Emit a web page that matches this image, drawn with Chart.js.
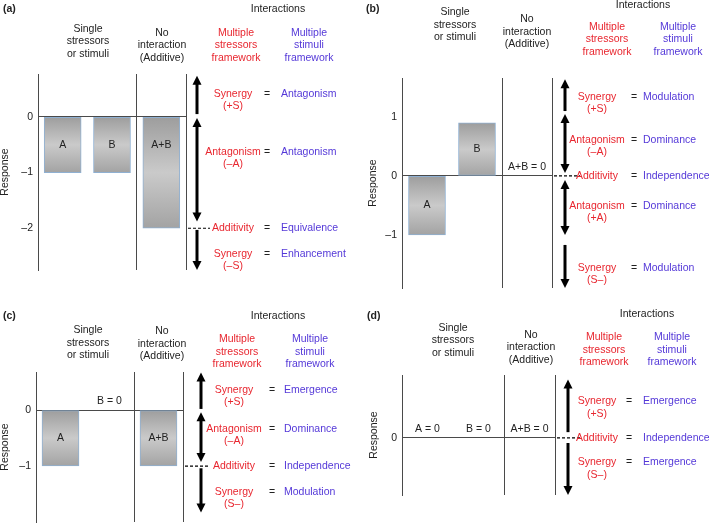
<!DOCTYPE html>
<html>
<head>
<meta charset="utf-8">
<script src="https://cdn.jsdelivr.net/npm/chart.js@4.4.1/dist/chart.umd.min.js"></script>
<style>
html, body { margin: 0; padding: 0; background: #fff; }
#wrap { position: relative; width: 709px; height: 523px; }
canvas { position: absolute; left: 0; top: 0; }
</style>
</head>
<body>
<div id="wrap">
  <canvas id="pa" width="709" height="523"></canvas>
  <canvas id="pb" width="709" height="523"></canvas>
  <canvas id="pc" width="709" height="523"></canvas>
  <canvas id="pd" width="709" height="523"></canvas>
</div>
<script>
// data
var barLabels = ['A', 'B', 'A+B'];
var valuesA = [-1, -1, -2];
var valuesB = [-1, 0.9, 0];
var valuesC = [-1, 0, -1];
var valuesD = [0, 0, 0];
var ticksA = [0, -1, -2];
var ticksB = [1, 0, -1];
var ticksC = [0, -1];
var ticksD = [0];

// interaction rows: red label lines, blue label, response level of first line
var rowsA = [
  { red: ['Synergy', '(+S)'], blue: 'Antagonism', at: 0.41 },
  { red: ['Antagonism', '(\u2013A)'], blue: 'Antagonism', at: -0.625 },
  { red: ['Additivity'], blue: 'Equivalence', at: -2 },
  { red: ['Synergy', '(\u2013S)'], blue: 'Enhancement', at: -2.46 }
];
var rowsB = [
  { red: ['Synergy', '(+S)'], blue: 'Modulation', at: 1.34 },
  { red: ['Antagonism', '(\u2013A)'], blue: 'Dominance', at: 0.61 },
  { red: ['Additivity'], blue: 'Independence', at: 0 },
  { red: ['Antagonism', '(+A)'], blue: 'Dominance', at: -0.51 },
  { red: ['Synergy', '(S\u2013)'], blue: 'Modulation', at: -1.56 }
];
var rowsC = [
  { red: ['Synergy', '(+S)'], blue: 'Emergence', at: 0.36 },
  { red: ['Antagonism', '(\u2013A)'], blue: 'Dominance', at: -0.34 },
  { red: ['Additivity'], blue: 'Independence', at: -1 },
  { red: ['Synergy', '(S\u2013)'], blue: 'Modulation', at: -1.46 }
];
var rowsD = [
  { red: ['Synergy', '(+S)'], blue: 'Emergence', at: 0.635 },
  { red: ['Additivity'], blue: 'Independence', at: 0 },
  { red: ['Synergy', '(S\u2013)'], blue: 'Emergence', at: -0.43 }
];

// arrow spans [from, tip, heads]
var arrowsA = [[0.05, 0.74, 1], [-0.02, -1.88, 2], [-2.03, -2.75, 1]];
var arrowsB = [[1.1, 1.64, 1], [1.05, 0.05, 2], [-0.07, -1.0, 2], [-1.17, -1.9, 1]];
var arrowsC = [[0.02, 0.67, 1], [-0.04, -0.93, 2], [-1.04, -1.83, 1]];
var arrowsD = [[0.1, 1.02, 1], [-0.09, -1.0, 1]];

var FONT = '"Liberation Sans", Arial, sans-serif';
var RED = '#e8262f', BLUE = '#5438d8', INK = '#222', LINE = '#4a4a4a';
var LH = 12.5;

Chart.defaults.font.family = FONT;
Chart.defaults.font.size = 10.5;
Chart.defaults.color = INK;

function txt(ctx, s, x, y, color, align, bold) {
  ctx.font = (bold ? 'bold ' : '') + '10.5px ' + FONT;
  ctx.fillStyle = color;
  ctx.textAlign = align || 'center';
  ctx.textBaseline = 'middle';
  ctx.fillText(s, x, y);
}

function lines(ctx, arr, x, y, color) {
  arr.forEach(function (t, k) { txt(ctx, t, x, y + k * LH, color); });
}

function arrow(ctx, x, y1, y2, both) {
  var L = 9, W = 4.5;
  var d = y2 > y1 ? 1 : -1;
  ctx.strokeStyle = '#000';
  ctx.fillStyle = '#000';
  ctx.lineWidth = 3;
  ctx.beginPath();
  ctx.moveTo(x, both ? y1 + d * (L - 1) : y1);
  ctx.lineTo(x, y2 - d * (L - 1));
  ctx.stroke();
  function head(ty, dir) {
    ctx.beginPath();
    ctx.moveTo(x, ty);
    ctx.lineTo(x - W, ty - dir * L);
    ctx.lineTo(x + W, ty - dir * L);
    ctx.closePath();
    ctx.fill();
  }
  head(y2, d);
  if (both) head(y1, -d);
}

var decor = {
  id: 'decor',
  afterDraw: function (chart, args, o) {
    var ctx = chart.ctx, ys = chart.scales.y, area = chart.chartArea;
    ctx.save();
    var h = o.head;
    txt(ctx, o.letter, h.letter[0], h.letter[1], INK, 'left', true);
    txt(ctx, 'Interactions', h.inter[0], h.inter[1], INK);
    lines(ctx, ['Single', 'stressors', 'or stimuli'], h.single[0], h.single[1], INK);
    lines(ctx, ['No', 'interaction', '(Additive)'], h.none[0], h.none[1], INK);
    lines(ctx, ['Multiple', 'stressors', 'framework'], h.red[0], h.red[1], RED);
    lines(ctx, ['Multiple', 'stimuli', 'framework'], h.blue[0], h.blue[1], BLUE);

    var y0 = ys.getPixelForValue(0);
    chart.getDatasetMeta(0).data.forEach(function (bar, i) {
      var v = o.values[i];
      if (v === 0) {
        txt(ctx, barLabels[i] + ' = 0', bar.x, y0 - 9, INK);
      } else {
        var mid = v < 0 ? Math.max(v, -1) / 2 : Math.min(v, 1) / 2;
        txt(ctx, barLabels[i], bar.x, ys.getPixelForValue(mid), INK);
      }
    });

    o.arrows.forEach(function (s) {
      arrow(ctx, o.arrowX, ys.getPixelForValue(s[0]), ys.getPixelForValue(s[1]), s[2] === 2);
    });

    var ya = ys.getPixelForValue(o.values[2]);
    ctx.strokeStyle = '#000';
    ctx.lineWidth = 1.2;
    ctx.setLineDash([3, 2]);
    ctx.beginPath();
    ctx.moveTo(area.right + 2, ya);
    ctx.lineTo(o.dashEnd, ya);
    ctx.stroke();
    ctx.setLineDash([]);

    o.rows.forEach(function (r) {
      var py = ys.getPixelForValue(r.at);
      lines(ctx, r.red, o.redX, py, RED);
      txt(ctx, '=', o.eqX, py, INK);
      txt(ctx, r.blue, o.blueX, py, BLUE, 'left');
    });
    ctx.restore();
  }
};

function makePanel(id, p) {
  new Chart(document.getElementById(id), {
    type: 'bar',
    data: {
      labels: barLabels,
      datasets: [{
        data: p.values,
        barThickness: 37,
        borderSkipped: false,
        borderColor: '#8fb0d2',
        borderWidth: function (c) { return c.raw === 0 ? 0 : 1; },
        backgroundColor: function (c) {
          var ch = c.chart, ys = ch.scales.y;
          if (!ch.chartArea || !ys) return '#b8b8b8';
          var a = ys.getPixelForValue(0), b = ys.getPixelForValue(c.raw);
          if (a === b) return 'transparent';
          var g = ch.ctx.createLinearGradient(0, Math.min(a, b), 0, Math.max(a, b));
          g.addColorStop(0, '#9d9d9d');
          g.addColorStop(0.5, '#cacaca');
          g.addColorStop(1, '#a3a3a3');
          return g;
        }
      }]
    },
    options: {
      responsive: false,
      animation: false,
      devicePixelRatio: 1,
      layout: { padding: { left: p.box.left, top: p.box.top, right: 709 - p.box.right, bottom: 523 - p.box.bottom } },
      scales: {
        x: {
          type: 'category',
          offset: true,
          ticks: { display: false },
          border: { display: false },
          grid: {
            offset: true,
            drawTicks: false,
            lineWidth: 1,
            color: function (c) { return (c.type === 'scale' || c.index === 2) ? LINE : 'transparent'; }
          },
          afterFit: function (s) { s.height = 0; s.paddingLeft = 0; s.paddingRight = 0; }
        },
        y: {
          min: p.min,
          max: p.max,
          afterBuildTicks: function (s) { s.ticks = p.ticks.map(function (v) { return { value: v }; }); },
          afterFit: function (s) { s.width = p.box.axisW; s.paddingTop = 0; s.paddingBottom = 0; },
          border: { display: true, color: LINE, width: 1 },
          grid: {
            drawTicks: false,
            lineWidth: 1,
            color: function (c) { return c.tick && c.tick.value === 0 ? LINE : 'transparent'; }
          },
          ticks: {
            padding: 5,
            color: INK,
            callback: function (v) { return v < 0 ? '\u2013' + (-v) : String(v); }
          },
          title: { display: true, text: 'Response', color: INK, padding: 0, font: { size: 10.5, lineHeight: 1 } }
        }
      },
      plugins: {
        legend: { display: false },
        tooltip: { enabled: false },
        decor: p
      }
    },
    plugins: [decor]
  });
}

makePanel('pa', {
  letter: '(a)', values: valuesA, ticks: ticksA, rows: rowsA, arrows: arrowsA,
  min: -2.75, max: 0.77,
  box: { left: 0, axisW: 38, top: 74, right: 186, bottom: 270 },
  arrowX: 197, dashEnd: 210, redX: 233, eqX: 267, blueX: 281,
  head: { letter: [3, 9], inter: [278, 9], single: [88, 29], none: [162, 33], red: [236, 33], blue: [309, 33] }
});
makePanel('pb', {
  letter: '(b)', values: valuesB, ticks: ticksB, rows: rowsB, arrows: arrowsB,
  min: -1.9, max: 1.66,
  box: { left: 368, axisW: 34, top: 78, right: 552, bottom: 288 },
  arrowX: 565, dashEnd: 580, redX: 597, eqX: 634, blueX: 643,
  head: { letter: [366, 9], inter: [643, 5], single: [455, 12.5], none: [527, 19.5], red: [607, 27], blue: [678, 27] }
});
makePanel('pc', {
  letter: '(c)', values: valuesC, ticks: ticksC, rows: rowsC, arrows: arrowsC,
  min: -2.0, max: 0.68,
  box: { left: 0, axisW: 36, top: 372, right: 183, bottom: 522 },
  arrowX: 201, dashEnd: 210, redX: 234, eqX: 272, blueX: 284,
  head: { letter: [3, 316], inter: [278, 316], single: [88, 330.5], none: [162, 331.5], red: [237, 339.5], blue: [310, 339.5] }
});
makePanel('pd', {
  letter: '(d)', values: valuesD, ticks: ticksD, rows: rowsD, arrows: arrowsD,
  min: -1.0, max: 1.1,
  box: { left: 369, axisW: 33, top: 375, right: 555, bottom: 495 },
  arrowX: 568, dashEnd: 582, redX: 597, eqX: 629, blueX: 643,
  head: { letter: [367, 316], inter: [647, 314], single: [453, 328], none: [531, 335], red: [604, 337.5], blue: [672, 337.5] }
});
</script>
</body>
</html>
